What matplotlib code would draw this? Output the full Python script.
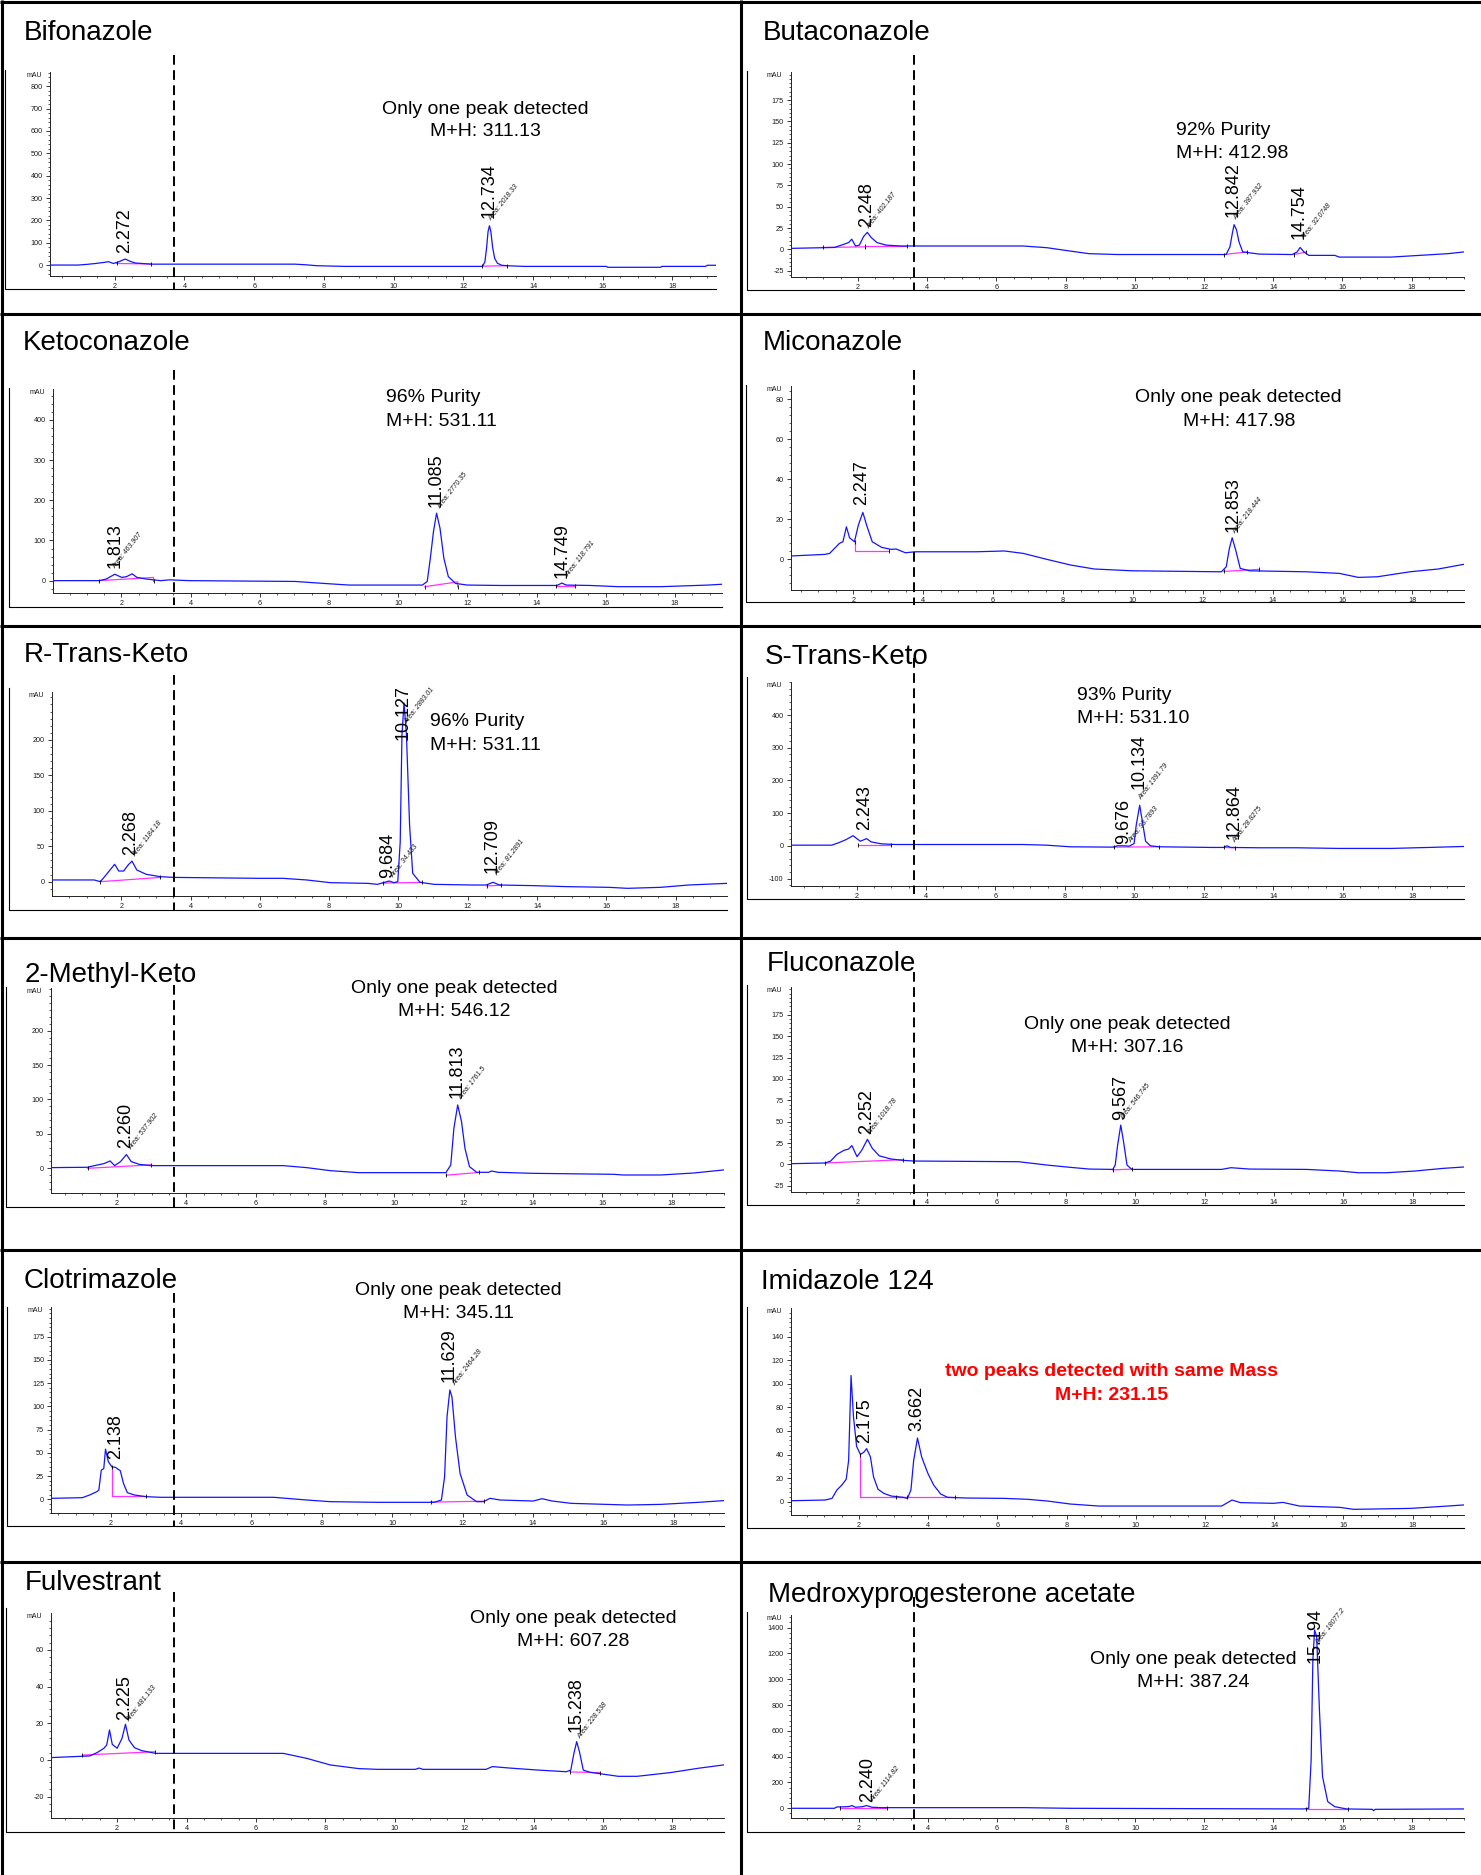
import matplotlib
matplotlib.use("Agg")
import matplotlib.pyplot as plt
from matplotlib.lines import Line2D
from matplotlib.ticker import FixedLocator, FuncFormatter, NullFormatter
import numpy as np

plt.rcParams['font.family'] = ['Liberation Sans', 'DejaVu Sans']

# ---------------- data ----------------
BIF_T = [0.13, 0.95, 1.2, 1.45, 1.7, 1.82, 1.96, 2.12, 2.30, 2.45, 2.6, 3.04, 7.17, 7.5, 7.8, 8.6, 12.55, 12.62, 12.67, 12.71, 12.75, 12.79, 12.84, 12.9, 12.98, 13.1, 13.26, 13.74, 16.1, 16.15, 17.66, 17.7, 18.95, 19.0, 19.25]
BIF_Y = [0, 0, 3, 7, 12, 15, 7, 15, 27, 16, 9, 4, 4, 1, -3, -6, -6, 15, 80, 150, 176, 150, 80, 30, 8, -1, -3, -6, -6, -10, -10, -6, -6, -1, -1]
BIF_RT = [2.272, 12.734]
BIF_AREA = ['', '2018.33']
BIF_BASE = [[(2.05, 7), (3.04, 5)], [(12.55, -5), (13.26, -3)]]

BUT_T = [0.05, 1.32, 1.52, 1.73, 1.82, 1.93, 2.04, 2.16, 2.27, 2.38, 2.55, 2.82, 3.23, 6.77, 7.46, 8.14, 8.68, 9.5, 12.64, 12.75, 12.82, 12.87, 12.94, 13.01, 13.12, 13.32, 13.6, 14.55, 14.69, 14.78, 14.89, 15.03, 15.78, 15.91, 17.41, 18.23, 19.05, 19.5]
BUT_Y = [1.2, 2.3, 5, 8, 12, 4, 5, 15, 20, 14, 8, 5, 4, 4, 2, -2, -5, -6, -6, 3, 19, 29, 23, 9, -3, -4, -5.5, -6, -3, 2.3, -3, -7, -7, -9, -9, -7, -5, -3]
BUT_RT = [2.248, 12.842, 14.754]
BUT_AREA = ['402.187', '387.932', '32.0748']
BUT_BASE = [[(0.98, 2.3), (2.2, 3)], [(2.2, 4), (3.43, 4)], [(12.57, -6), (13.25, -3)], [(14.6, -6), (14.95, -3)]]

KET_T = [0.02, 1.36, 1.56, 1.81, 2.01, 2.15, 2.31, 2.45, 2.72, 3.13, 3.4, 3.95, 7.02, 8.04, 8.59, 10.7, 10.84, 10.93, 11.02, 11.11, 11.21, 11.32, 11.45, 11.66, 12.0, 12.95, 14.59, 14.73, 14.86, 15.55, 16.36, 17.59, 18.96, 19.36]
KET_Y = [0, 0, 4, 16, 8, 10, 17, 8, 4, 0, 2, 0, -2, -8, -11, -11, -2, 56, 122, 168, 130, 56, 10, -7, -11, -12, -12, -6, -11, -12, -15, -15, -11, -9]
KET_RT = [1.813, 11.085, 14.749]
KET_AREA = ['463.907', '2770.35', '118.791']
KET_BASE = [[(1.36, 0), (2.93, 8), (2.93, -2)], [(10.77, -15), (11.72, -3), (11.72, -15)], [(14.55, -14), (15.1, -14)]]

MIC_T = [0.2, 1.19, 1.32, 1.46, 1.6, 1.7, 1.8, 1.89, 2.03, 2.14, 2.27, 2.38, 2.54, 2.81, 3.08, 3.22, 3.49, 3.76, 5.51, 6.32, 6.86, 7.54, 8.21, 8.89, 9.97, 12.53, 12.67, 12.76, 12.84, 12.94, 13.07, 13.34, 14.96, 15.91, 16.45, 16.99, 17.93, 18.74, 19.46]
MIC_Y = [1.7, 2.5, 3, 5.5, 8, 8.8, 16.3, 10.8, 8.8, 17, 23.5, 17, 8.8, 6, 5, 5.2, 3.3, 3.8, 3.8, 4.2, 3, 0, -2.8, -4.8, -5.7, -6.2, -3.7, 5.5, 10.8, 4.7, -4.5, -5.7, -6.2, -7, -9, -8.7, -6.2, -4.8, -2.5]
MIC_RT = [2.247, 12.853]
MIC_AREA = ['', '218.444']
MIC_BASE = [[(2.04, 8.8), (2.04, 4.2), (3.01, 4.2)], [(12.6, -6), (13.6, -5)]]

RTK_T = [0.0, 1.22, 1.4, 1.56, 1.81, 1.93, 2.07, 2.2, 2.31, 2.45, 2.72, 3.13, 3.54, 5.99, 6.67, 7.35, 8.03, 9.12, 9.39, 9.6, 9.73, 9.87, 9.98, 10.05, 10.1, 10.16, 10.23, 10.32, 10.41, 10.62, 11.03, 12.12, 12.53, 12.73, 12.91, 13.89, 14.84, 16.07, 16.61, 17.56, 18.38, 19.47]
RTK_Y = [2.4, 2.4, 0, 9.4, 24.5, 15, 15, 23.5, 29, 16.5, 10.4, 7, 6, 4.7, 4.7, 2.4, -1.4, -2.4, -3.8, -0.9, 0.9, -1.4, 0, 56, 207, 252, 207, 80, 11.8, -0.9, -3.8, -4.7, -4.7, -0.9, -4.7, -5.6, -7, -8, -9.4, -8, -4.7, -2.4]
RTK_RT = [2.268, 9.684, 10.127, 12.709]
RTK_AREA = ['1184.18', '34.433', '2883.01', '81.2891']
RTK_BASE = [[(1.4, 0), (3.13, 6)], [(9.55, -2), (10.67, -1)], [(12.55, -6), (12.95, -5)]]

STK_T = [0.1, 1.29, 1.5, 1.7, 1.9, 2.01, 2.11, 2.29, 2.42, 2.72, 3.13, 6.79, 7.47, 8.15, 9.37, 9.51, 9.71, 9.85, 9.99, 10.05, 10.15, 10.23, 10.32, 10.46, 10.73, 12.23, 12.57, 12.66, 12.77, 13.58, 14.67, 15.89, 17.38, 18.47, 19.47]
STK_Y = [2, 2, 10, 19, 31, 22, 14, 22, 12, 6, 4, 4, 2, -3, -4, 0, 0, -1, 7, 63, 124, 73, 14, 0, -3, -5, -5, 0, -5, -6, -6, -8, -8, -5, -2]
STK_RT = [2.243, 9.676, 10.134, 12.864]
STK_AREA = ['', '93.7893', '1391.79', '28.8275']
STK_BASE = [[(2.05, 2), (3.0, 2)], [(9.4, -4), (10.7, -3)], [(12.57, -5), (12.9, -6)]]

MEK_T = [0.08, 1.14, 1.35, 1.62, 1.8, 1.93, 2.1, 2.27, 2.41, 2.64, 2.98, 6.79, 7.47, 8.15, 8.97, 11.49, 11.63, 11.72, 11.83, 11.94, 12.04, 12.17, 12.38, 12.72, 12.81, 12.99, 14.01, 16.33, 16.6, 17.69, 18.64, 19.5]
MEK_Y = [1, 1.5, 3.9, 6.8, 10.7, 3.9, 9.7, 20, 9.7, 5.8, 3.9, 3.9, 1, -3.4, -6.3, -6.3, 4.8, 58, 92, 68, 29, 2.4, -5.8, -5.8, -3.9, -5.8, -7.3, -8.7, -9.7, -9.7, -6.8, -2.4]
MEK_RT = [2.260, 11.813]
MEK_AREA = ['537.902', '1761.5']
MEK_BASE = [[(1.15, 0), (2.98, 5)], [(11.5, -10), (12.45, -6)]]

FLU_T = [0.05, 1.05, 1.21, 1.39, 1.59, 1.73, 1.82, 1.97, 2.11, 2.27, 2.41, 2.61, 2.95, 3.29, 3.63, 6.63, 7.45, 8.13, 8.67, 9.35, 9.42, 9.49, 9.58, 9.66, 9.76, 9.9, 12.49, 12.76, 13.3, 14.94, 15.89, 16.44, 17.25, 18.07, 18.88, 19.47]
FLU_Y = [0.8, 1.6, 3.9, 11.7, 16.4, 18, 22, 9, 16.8, 29.3, 18.8, 10, 6.3, 4.7, 3.9, 3.1, -0.8, -3.5, -5.5, -5.9, -0.8, 22.7, 46, 26.6, -0.8, -5.9, -5.9, -3.9, -5.5, -5.9, -7.8, -9.8, -9.8, -7.8, -4.7, -3.1]
FLU_RT = [2.252, 9.567]
FLU_AREA = ['1018.78', '546.745']
FLU_BASE = [[(1.05, 1.6), (3.3, 5.5)], [(9.35, -6.5), (9.9, -5.5)]]

CLO_T = [0.3, 1.19, 1.4, 1.6, 1.66, 1.73, 1.8, 1.85, 1.93, 2.03, 2.13, 2.27, 2.36, 2.47, 2.67, 3.0, 3.41, 6.63, 7.57, 8.24, 9.58, 11.19, 11.4, 11.49, 11.56, 11.64, 11.7, 11.8, 11.93, 12.13, 12.4, 12.6, 12.78, 13.07, 14.01, 14.26, 14.55, 15.09, 16.7, 17.64, 18.71, 19.42]
CLO_Y = [1.1, 1.8, 4.7, 8.2, 10, 31.5, 33, 54, 40.5, 35, 34.4, 30.8, 17.2, 7.2, 4.7, 2.9, 2.2, 2.2, -0.7, -2.5, -3.2, -3.2, -0.7, 24, 89, 117.6, 110, 67, 28, 4.7, -2.5, -2.5, 1.1, -0.7, -1.8, 0.7, -1.8, -4.3, -6.1, -5.4, -3.2, -1.4]
CLO_RT = [2.138, 11.629]
CLO_AREA = ['', '2464.28']
CLO_BASE = [[(2.03, 35), (2.03, 3.6), (3.0, 3.6)], [(11.1, -3), (12.6, -2)]]

IMI_T = [0.02, 1.02, 1.22, 1.36, 1.5, 1.63, 1.7, 1.77, 1.84, 1.93, 2.04, 2.14, 2.22, 2.33, 2.42, 2.55, 2.72, 2.93, 3.27, 3.4, 3.5, 3.58, 3.69, 3.81, 3.99, 4.16, 4.36, 4.56, 5.11, 6.2, 6.88, 7.43, 8.11, 8.93, 12.48, 12.78, 13.02, 13.98, 14.25, 14.73, 15.89, 16.3, 17.93, 18.75, 19.47]
IMI_Y = [0.8, 1.4, 2.8, 9.9, 14, 19, 35, 107, 72, 47, 40, 42, 45, 38, 21, 10.5, 7, 4.8, 3.7, 2.8, 9.9, 35, 54, 38, 24, 14, 6.5, 3.7, 3.1, 2.8, 2, 0.6, -2, -3.7, -3.7, 1.4, -0.8, -1.4, -0.6, -3.7, -4.8, -6.5, -5.7, -4.2, -2.8]
IMI_RT = [2.175, 3.662]
IMI_AREA = ['', '']
IMI_BASE = [[(2.04, 40), (2.04, 4.2), (4.77, 4.2)], [(3.06, 4.2), (3.4, 4.2)]]

FUL_T = [0.08, 1.21, 1.42, 1.62, 1.7, 1.78, 1.86, 2.0, 2.14, 2.24, 2.34, 2.5, 2.71, 3.11, 6.79, 7.46, 8.14, 8.96, 9.5, 10.59, 10.7, 10.81, 12.63, 12.81, 13.31, 14.13, 14.94, 15.07, 15.16, 15.24, 15.32, 15.43, 15.62, 16.03, 16.44, 16.98, 17.93, 18.75, 19.47]
FUL_Y = [1.3, 2.2, 4, 6.4, 8.2, 16.4, 8.5, 6.4, 11.8, 19.5, 10.9, 6.7, 5.1, 3.6, 3.6, 0.9, -2.7, -4.7, -5.1, -5.1, -4.4, -5.1, -5.1, -3.6, -4.4, -5.5, -6.4, -5.5, 3.6, 10, 4.5, -5.5, -6.7, -7.8, -8.9, -8.9, -6.9, -4.5, -2.7]
FUL_RT = [2.225, 15.238]
FUL_AREA = ['481.133', '228.538']
FUL_BASE = [[(1.0, 2.7), (3.1, 4.5)], [(15.05, -6.5), (15.9, -6.9)]]

MED_T = [0.02, 1.29, 1.36, 1.7, 1.8, 1.9, 2.11, 2.22, 2.38, 2.66, 6.75, 8.12, 14.88, 15.02, 15.09, 15.14, 15.19, 15.25, 15.33, 15.42, 15.57, 15.77, 16.11, 16.86, 16.9, 16.94, 19.5]
MED_Y = [0, 0, 10, 13, 21, 8, 13, 21, 8, 5, 5, 0, -5, 0, 375, 1150, 1382, 1330, 762, 245, 52, 13, -5, -8, -18, -8, -5]
MED_RT = [2.240, 15.194]
MED_AREA = ['1114.82', '18077.2']
MED_BASE = [[(1.45, 5), (2.82, 5)], [(14.95, -3), (16.15, -3)]]

NAMES = ['Bifonazole', 'Butaconazole', 'Ketoconazole', 'Miconazole', 'R-Trans-Keto', 'S-Trans-Keto',
         '2-Methyl-Keto', 'Fluconazole', 'Clotrimazole', 'Imidazole 124', 'Fulvestrant',
         'Medroxyprogesterone acetate']
NOTES = [['Only one peak detected', 'M+H: 311.13'],
         ['92% Purity', 'M+H: 412.98'],
         ['96% Purity', 'M+H: 531.11'],
         ['Only one peak detected', 'M+H: 417.98'],
         ['96% Purity', 'M+H: 531.11'],
         ['93% Purity', 'M+H: 531.10'],
         ['Only one peak detected', 'M+H: 546.12'],
         ['Only one peak detected', 'M+H: 307.16'],
         ['Only one peak detected', 'M+H: 345.11'],
         ['two peaks detected with same Mass', 'M+H: 231.15'],
         ['Only one peak detected', 'M+H: 607.28'],
         ['Only one peak detected', 'M+H: 387.24']]
Y_TICKS = [(0, 800, 100), (-25, 175, 25), (0, 400, 100), (0, 80, 20), (0, 200, 50), (-100, 400, 100),
           (0, 200, 50), (-25, 175, 25), (0, 175, 25), (0, 140, 20), (-20, 60, 20), (0, 1400, 200)]

SERIES = [(BIF_T, BIF_Y, BIF_RT, BIF_AREA, BIF_BASE), (BUT_T, BUT_Y, BUT_RT, BUT_AREA, BUT_BASE),
          (KET_T, KET_Y, KET_RT, KET_AREA, KET_BASE), (MIC_T, MIC_Y, MIC_RT, MIC_AREA, MIC_BASE),
          (RTK_T, RTK_Y, RTK_RT, RTK_AREA, RTK_BASE), (STK_T, STK_Y, STK_RT, STK_AREA, STK_BASE),
          (MEK_T, MEK_Y, MEK_RT, MEK_AREA, MEK_BASE), (FLU_T, FLU_Y, FLU_RT, FLU_AREA, FLU_BASE),
          (CLO_T, CLO_Y, CLO_RT, CLO_AREA, CLO_BASE), (IMI_T, IMI_Y, IMI_RT, IMI_AREA, IMI_BASE),
          (FUL_T, FUL_Y, FUL_RT, FUL_AREA, FUL_BASE), (MED_T, MED_Y, MED_RT, MED_AREA, MED_BASE)]

# ---------------- layout (pixels in the 1481x1875 canvas) ----------------
LAYOUT = [
    dict(ax=(49.6, 72, 716, 276), xlim=(0.13, 19.25), ylim=(-49, 864), frame=(4.7, 70, 289, 716),
         dash=(173.7, 55, 290), title=(23.6, 40), ann=('center', 485.6, 113.5, 136.5),
         rt_y=[52, 209], area_xy=[None, (12.86, 190)]),
    dict(ax=(790.5, 72, 1463.5, 276.7), xlim=(0.05, 19.5), ylim=(-32, 208), frame=(747, 71, 290, 1463.5),
         dash=(913.7, 55, 290), title=(762.7, 40), ann=('left', 1176.5, 134.8, 158.2),
         rt_y=[26, 38, 12], area_xy=[(2.38, 22), (12.98, 33), (14.96, 10)]),
    dict(ax=(52.9, 389, 722, 593.3), xlim=(0.02, 19.36), ylim=(-31.5, 477), frame=(8.5, 388, 607.3, 722),
         dash=(173.7, 370, 605), title=(22.7, 350), ann=('left', 386, 401.5, 425.5),
         rt_y=[31, 184, 6], area_xy=[(1.88, 27), (11.25, 175), (14.95, 5)]),
    dict(ax=(790.5, 385.7, 1463.5, 590), xlim=(0.2, 19.46), ylim=(-15.3, 86.8), frame=(745.7, 385, 602.3, 1463.5),
         dash=(913.7, 370, 605), title=(762.7, 350), ann=('center', 1238.8, 401.5, 425.5),
         rt_y=[27, 13.8], area_xy=[None, (12.97, 12)]),
    dict(ax=(51.9, 691.7, 726.7, 895.7), xlim=(0.0, 19.47), ylim=(-19.8, 268), frame=(8.5, 688, 910, 726.7),
         dash=(173.7, 675, 910), title=(23.6, 662), ann=('left', 430.4, 726.5, 749.8),
         rt_y=[37.6, 4.7, 200, 11.8], area_xy=[(2.45, 33), (9.9, 4), (10.3, 221), (12.9, 6)]),
    dict(ax=(790.5, 681.7, 1463.5, 885.7), xlim=(0.1, 19.47), ylim=(-122, 502), frame=(746.6, 676.7, 899, 1463.5),
         dash=(913.7, 658, 894), title=(764.5, 664), ann=('left', 1077.4, 699.8, 723.2),
         rt_y=[48, 7, 175, 22], area_xy=[None, (9.95, 5), (10.25, 135), (12.95, 5)]),
    dict(ax=(50.5, 988.3, 723.5, 1193.3), xlim=(0.08, 19.5), ylim=(-36.3, 261.5), frame=(5.7, 986.7, 1206.7, 723.5),
         dash=(173.7, 985, 1206.7), title=(24.5, 981.7), ann=('center', 454.5, 993.2, 1016.5),
         rt_y=[29, 102], area_xy=[(2.45, 25), (11.98, 97)]),
    dict(ax=(790.5, 986.7, 1463.5, 1191.7), xlim=(0.05, 19.47), ylim=(-32, 208), frame=(746.6, 985, 1205, 1463.5),
         dash=(913.7, 971.7, 1205.7), title=(766.9, 971), ann=('center', 1127, 1028.8, 1052.2),
         rt_y=[36, 52], area_xy=[(2.4, 33), (9.7, 50)]),
    dict(ax=(51, 1307.3, 723.5, 1513.3), xlim=(0.3, 19.42), ylim=(-15, 206.5), frame=(7, 1307, 1526, 723.5),
         dash=(173.7, 1293.3, 1526.7), title=(23.6, 1288), ann=('center', 458.7, 1294.8, 1318.2),
         rt_y=[43, 126.6], area_xy=[None, (11.85, 121)]),
    dict(ax=(790.5, 1308.3, 1463.5, 1515), xlim=(0.02, 19.47), ylim=(-11.3, 164), frame=(746.6, 1306.7, 1527.7, 1463.5),
         dash=None, title=(761.2, 1289), ann=('center', 1111.4, 1375.5, 1399.8),
         rt_y=[50, 60], area_xy=[None, None]),
    dict(ax=(50.5, 1613.3, 723.5, 1818.3), xlim=(0.08, 19.47), ylim=(-31.8, 80), frame=(5.7, 1608.3, 1831.7, 723.5),
         dash=(173.7, 1591.7, 1831.7), title=(24.5, 1590), ann=('center', 573.4, 1623.2, 1646.5),
         rt_y=[21.8, 15.5], area_xy=[(2.4, 20), (15.38, 11)]),
    dict(ax=(790.5, 1615, 1463.5, 1818.3), xlim=(0.02, 19.5), ylim=(-77.5, 1498), frame=(746.6, 1611.7, 1831.7, 1463.5),
         dash=(913.7, 1596.7, 1830), title=(768.3, 1602), ann=('center', 1193, 1663.8, 1687.2),
         rt_y=[52, 1124], area_xy=[(2.45, 40), (15.35, 1253)]),
]

W, H = 1481, 1875
fig = plt.figure(figsize=(W / 100, H / 100), dpi=100)
fig.patch.set_facecolor('white')


def fx(x):
    return x / W


def fy(y):
    return 1 - y / H


def fline(xs, ys, **kw):
    fig.add_artist(Line2D([fx(v) for v in xs], [fy(v) for v in ys],
                          transform=fig.transFigure, **kw))


TRACE = '#1414ff'
BASEC = '#ff33ff'

for i, (name, note, yt, ser, lay) in enumerate(zip(NAMES, NOTES, Y_TICKS, SERIES, LAYOUT)):
    t, y, rts, areas, bases = ser
    L, T, R, B = lay['ax']
    ax = fig.add_axes([fx(L), fy(B), (R - L) / W, (B - T) / H])
    ax.set_facecolor('none')
    ax.plot(t, y, color=TRACE, lw=0.9, zorder=3)
    for seg in bases:
        xs = [s[0] for s in seg]
        ys = [s[1] for s in seg]
        ax.plot(xs, ys, color=BASEC, lw=0.9, zorder=2)
        ax.plot([xs[0], xs[-1]], [ys[0], ys[-1]], linestyle='none', marker='|',
                ms=3.5, mew=0.6, color='black', zorder=4)
    ax.set_xlim(*lay['xlim'])
    ax.set_ylim(*lay['ylim'])
    for sp in ('top', 'right'):
        ax.spines[sp].set_visible(False)
    for sp in ('left', 'bottom'):
        ax.spines[sp].set_linewidth(0.7)
        ax.spines[sp].set_color('#222222')

    ax.xaxis.set_major_locator(FixedLocator(list(range(2, 19, 2))))
    ax.xaxis.set_minor_locator(FixedLocator(list(np.arange(0.5, 19.6, 0.5))))
    ax.xaxis.set_major_formatter(FuncFormatter(lambda v, _: f"{v:g}"))
    lo, hi, st = yt
    ax.yaxis.set_major_locator(FixedLocator(list(np.arange(lo, hi + st / 2, st))))
    ms = st / 5
    y0, y1 = lay['ylim']
    ax.yaxis.set_minor_locator(FixedLocator(list(np.arange(np.ceil(y0 / ms) * ms, y1, ms))))
    ax.yaxis.set_major_formatter(FuncFormatter(lambda v, _: f"{v:g}"))
    ax.yaxis.set_minor_formatter(NullFormatter())
    ax.tick_params(which='major', length=3, width=0.6, labelsize=5.2, pad=2,
                   colors='#1a1a1a')
    ax.tick_params(which='minor', length=1.6, width=0.5, colors='#1a1a1a')
    ax.text(-0.012, 1.0, 'mAU', transform=ax.transAxes, ha='right', va='top',
            fontsize=5, color='#1a1a1a')

    for rt, ry in zip(rts, lay['rt_y']):
        ax.text(rt, ry, f"{rt:.3f}", rotation=90, ha='center', va='bottom',
                fontsize=13, color='black', clip_on=False, zorder=5)
    for a, axy in zip(areas, lay['area_xy']):
        if a and axy is not None:
            ax.text(axy[0], axy[1], f"Area: {a}", rotation=52, rotation_mode='anchor',
                    ha='left', va='bottom', fontsize=5, style='italic',
                    color='#1a1a1a', clip_on=False, zorder=5)

    # frame of the pasted chromatogram
    fl, ft, fb, fr = lay['frame']
    fline([fl, fl, fr], [ft, fb, fb], color='black', lw=0.8)
    # dashed separator
    if lay['dash'] is not None:
        dx, d0, d1 = lay['dash']
        fline([dx, dx], [d0, d1], color='black', lw=1.4, linestyle=(0, (5, 2.8)), zorder=6)
    # title
    tx, tb = lay['title']
    fig.text(fx(tx), fy(tb), name, fontsize=20, ha='left', va='baseline', color='black')
    # annotation
    mode, axx, b1, b2 = lay['ann']
    red = (name == 'Imidazole 124')
    for line, bb in zip(note, (b1, b2)):
        fig.text(fx(axx), fy(bb), line, fontsize=14, ha=mode, va='baseline',
                 color='#ff0000' if red else 'black',
                 fontweight='bold' if red else 'normal')

# cell grid
GL = dict(color='black', lw=2.2, solid_capstyle='butt')
fline([0, W], [1.5, 1.5], **GL)
fline([1.5, 1.5], [0, H], **GL)
fline([741, 741], [0, H], **GL)
for yy in [314, 626, 938, 1250, 1562]:
    fline([0, W], [yy, yy], **GL)

fig.savefig('out.png', dpi=100, facecolor='white')
